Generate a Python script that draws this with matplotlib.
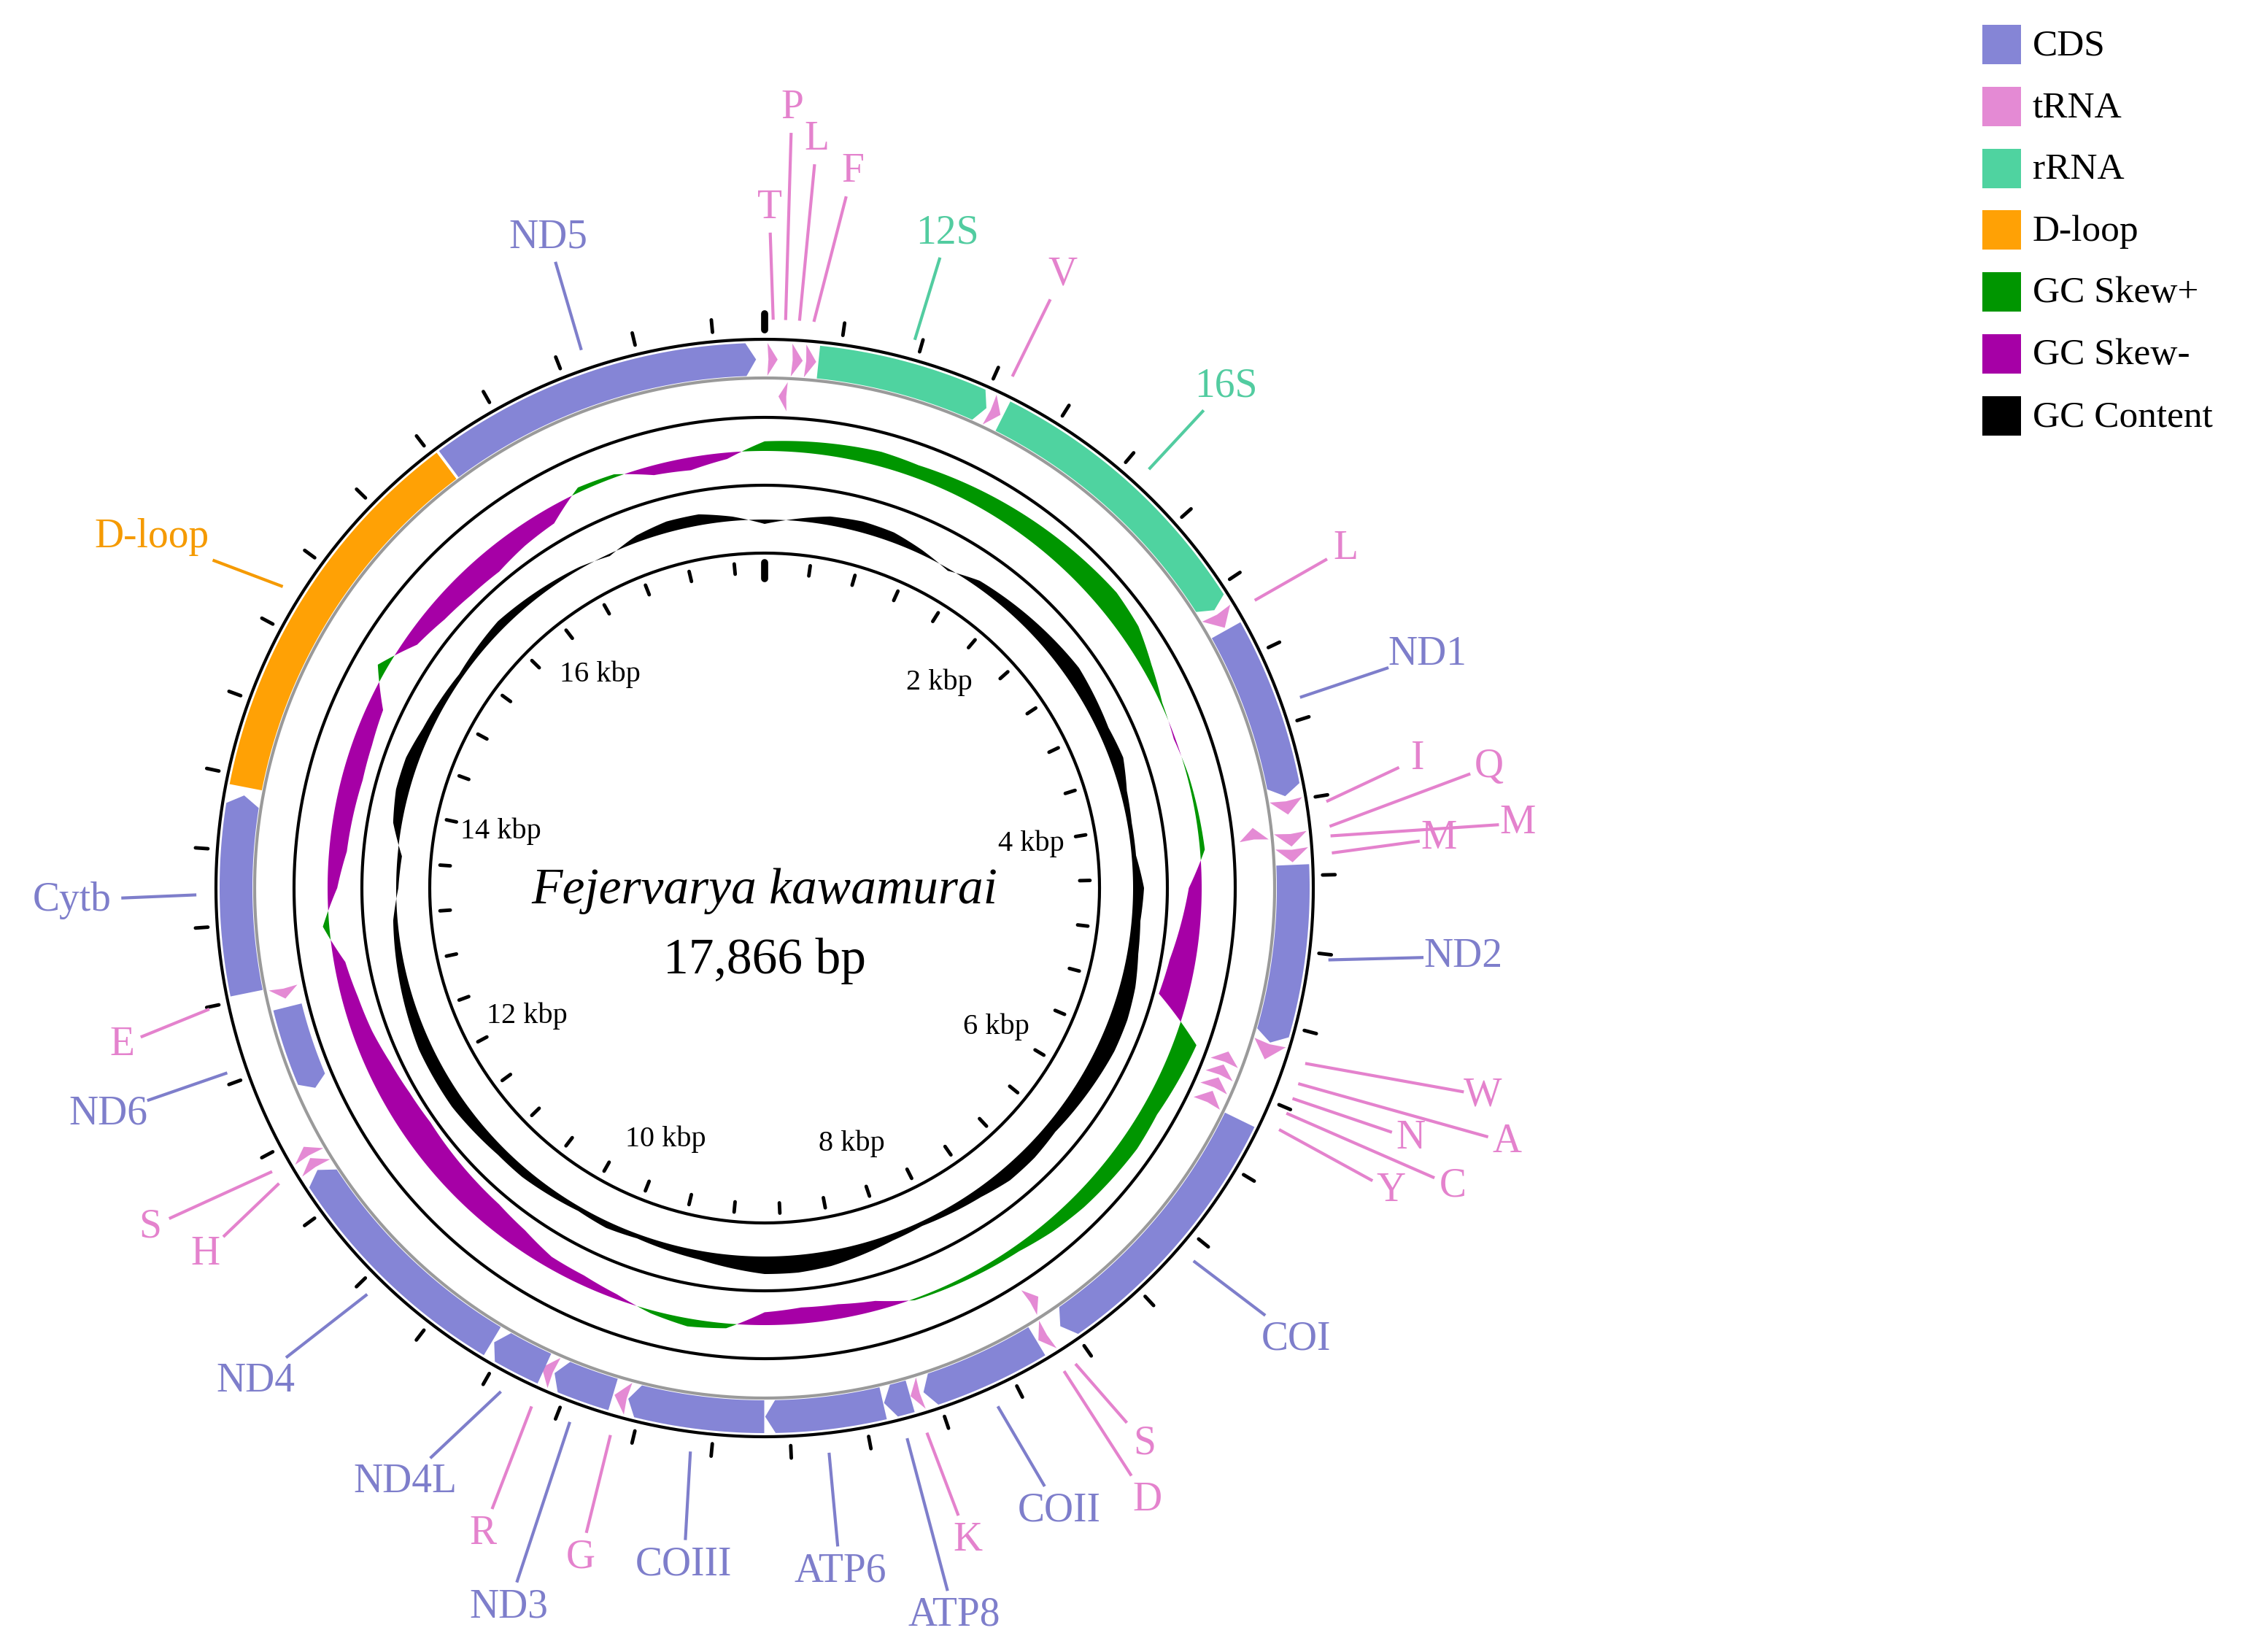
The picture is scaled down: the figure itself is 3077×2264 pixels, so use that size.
import numpy as np
import matplotlib
matplotlib.use("Agg")
import matplotlib.pyplot as plt
from matplotlib.patches import Polygon

GENOME = 17866
# features: name, start(bp), end(bp), strand(+1 outer / -1 inner), type
feat_names = ["ND5","T","P","L","F","12S","V","16S","L","ND1","I","Q","M","M","ND2",
              "W","A","N","C","Y","COI","S","D","COII","K","ATP8","ATP6","COIII","G",
              "ND3","R","ND4L","ND4","H","S","ND6","E","Cytb","D-loop"]
feat_start = [16045, 15, 80, 145, 218, 290, 1250, 1330, 2912, 3018, 3990, 4118, 4168, 4253, 4342,
              5310, 5430, 5510, 5590, 5675, 5757, 7255, 7325, 7395, 8080, 8140, 8290, 8935, 9676,
              9760, 10098, 10155, 10472, 11813, 11885, 12210, 12755, 12830, 13945]
feat_end   = [17820, 70, 130, 205, 278, 1231, 1315, 2893, 3003, 3970, 4070, 4193, 4243, 4328, 5310,
              5405, 5500, 5580, 5660, 5755, 7245, 7318, 7385, 8065, 8138, 8285, 8930, 9675, 9752,
              10095, 10170, 10460, 11800, 11875, 11945, 12705, 12820, 13900, 16030]
feat_strand = [1,1,-1,1,1,1,1,1,1,1,1,-1,1,1,1,
               1,-1,-1,-1,-1,1,-1,1,1,1,1,1,1,1,
               1,1,1,1,1,1,-1,-1,1,1]
feat_type = ["CDS","tRNA","tRNA","tRNA","tRNA","rRNA","tRNA","rRNA","tRNA","CDS","tRNA","tRNA","tRNA","tRNA","CDS",
             "tRNA","tRNA","tRNA","tRNA","tRNA","CDS","tRNA","tRNA","CDS","tRNA","CDS","CDS","CDS","tRNA",
             "CDS","tRNA","CDS","CDS","tRNA","tRNA","CDS","tRNA","CDS","D-loop"]
# label placement (angle deg, radius px in 1568-wide preview units)
label_ang = [341.6,0.4,2.0,4.0,7.0,15.6,25.9,42.6,59.7,70.6,78.8,80.5,85.1,85.8,95.6,
             106.1,108.9,111.2,113.4,115.8,130.3,145.6,148.0,154.7,162.7,165.4,173.7,186.8,195.4,
             199.6,203.6,211.2,225.9,236.8,241.1,251.0,256.3,269.0,299.8]
label_rad = [479,475,545,524,504,475,476,476,470,491,465,513,528,472,490,
             522,548,484,524,486,487,470,504,481,477,525,480,476,485,
             533,492,485,495,467,490,485,462,484,493]

# GC skew and GC content, sampled every 5 degrees (relative amplitude)
skew = [0.3,0.35,0.4,0.45,0.4,0.45,0.5,0.55,0.6,0.65,0.7,0.6,0.3,0.05,-0.05,0.05,0.1,0.15,
        -0.4,-0.6,-0.8,-0.9,0.7,0.6,0.5,0.55,0.5,0.45,0.35,0.2,0.15,0.1,0.05,-0.3,-0.45,-0.5,
        -0.4,0.15,0.25,0.1,-0.15,-0.3,-0.35,-0.6,-0.75,-0.8,-0.85,-0.9,-0.85,-0.75,-0.6,-0.5,
        -0.35,0.2,-0.3,-0.55,-0.6,-0.65,-0.6,-0.5,0.3,-0.4,-0.6,-0.7,-0.75,-0.6,-0.5,0.15,0.1,
        -0.3,-0.4,-0.2]
gc_content = [-0.2,0.1,0.4,0.5,0.45,0.2,-0.1,0.3,0.4,0.5,0.6,0.7,0.6,0.5,0.6,0.3,0.2,0.2,
              0.5,0.4,0.5,0.7,0.8,0.8,0.7,0.6,0.5,0.6,0.6,0.4,0.3,0.2,0.3,0.5,0.7,0.8,
              0.8,0.6,0.4,0.3,0.2,0.3,0.2,0.3,0.4,0.4,0.5,0.6,0.6,0.6,0.5,0.4,
              0.3,0.2,-0.1,-0.2,0.4,0.6,0.6,0.4,0.3,0.2,0.3,0.4,0.3,0.2,0.1,-0.1,0.3,
              0.5,0.5,0.2]

tick_labels = ["2 kbp","4 kbp","6 kbp","8 kbp","10 kbp","12 kbp","14 kbp","16 kbp"]
legend_names = ["CDS","tRNA","rRNA","D-loop","GC Skew+","GC Skew-","GC Content"]

COL = {"CDS": "#8585d6", "tRNA": "#e48ad4", "rRNA": "#4fd3a0", "D-loop": "#ffa105",
       "GC Skew+": "#009600", "GC Skew-": "#a600a6", "GC Content": "#000000"}
TXT = {"CDS": "#7e7ecb", "tRNA": "#e482cd", "rRNA": "#52cca0", "D-loop": "#f59a00"}

W, H = 3077, 2264
S = W / 1568.0
cx, cy = 1048, 1217
SERIF = ["Liberation Serif", "DejaVu Serif"]

fig = plt.figure(figsize=(W/100, H/100), dpi=100)
ax = fig.add_axes([0, 0, 1, 1])
ax.set_xlim(0, W); ax.set_ylim(H, 0); ax.set_aspect("equal"); ax.axis("off")

def deg(bp):
    return bp / GENOME * 360.0

def pt(a, r):
    t = np.radians(a)
    return cx + r*np.sin(t), cy - r*np.cos(t)

def circle(r, color="black", lw=3.0):
    a = np.linspace(0, 360, 721)
    x, y = pt(a, r)
    ax.plot(x, y, color=color, lw=lw, solid_capstyle="butt", zorder=4)

# feature bands
R_OUT = (702, 747); R_IN = (654, 694)
for name, s, e, st, ty in zip(feat_names, feat_start, feat_end, feat_strand, feat_type):
    r0, r1 = R_OUT if st == 1 else R_IN
    a0, a1 = deg(s), deg(e)
    rm = (r0 + r1) / 2
    if ty == "tRNA":
        if st == 1:
            poly = [pt(a0, r1), pt(a1, rm), pt(a0, r0), pt(a0 + 0.1*(a1-a0), rm)]
        else:
            poly = [pt(a1, r1), pt(a0, rm), pt(a1, r0), pt(a1 - 0.1*(a1-a0), rm)]
    else:
        if ty == "rRNA":
            head = 0.9
        elif ty == "D-loop":
            head = 0.0
        else:
            head = min(1.1, (a1 - a0) * 0.4)
        if st == 1:
            aa = np.linspace(a0, a1 - head, 80)
            outer = [pt(a, r1) for a in aa]
            inner = [pt(a, r0) for a in aa[::-1]]
            poly = outer + [pt(a1, rm)] + inner
        else:
            aa = np.linspace(a0 + head, a1, 80)
            outer = [pt(a, r1) for a in aa]
            inner = [pt(a, r0) for a in aa[::-1]]
            poly = [pt(a0, rm)] + outer + inner
    ax.add_patch(Polygon(poly, closed=True, fc=COL[ty], ec="none", zorder=3))

circle(752)
circle(699, color="#9a9a9a")
circle(645)
circle(552)
circle(459)

def ring_fill(vals, base, amp, pos_col, neg_col):
    a = np.arange(0, 360.01, 5.0)
    v = np.array(list(vals) + [vals[0]])
    af = np.linspace(0, 360, 2881)
    vf = np.interp(af, a, v)
    for sign, col in ((1, pos_col), (-1, neg_col)):
        vv = np.where(sign * vf > 0, vf, 0)
        xo, yo = pt(af, base + amp*vv)
        xi, yi = pt(af[::-1], np.full(af.size, base))
        ax.fill(np.r_[xo, xi], np.r_[yo, yi], color=col, lw=0, zorder=2)

ring_fill(skew, 599, 44, COL["GC Skew+"], COL["GC Skew-"])
ring_fill(gc_content, 505, 30, "black", "black")

# ticks every 400 bp
for bp in range(0, GENOME, 400):
    a = deg(bp)
    major = bp == 0
    x, y = pt(a, np.array([765, 787 if major else 782]))
    ax.plot(x, y, color="black", lw=7 if major else 3.5, solid_capstyle="round")
    x, y = pt(a, np.array([446, 424 if major else 432]))
    ax.plot(x, y, color="black", lw=7 if major else 3.5, solid_capstyle="round")
for i, lab in enumerate(tick_labels):
    a = deg((i + 1) * 2000)
    x, y = pt(a, 370)
    ax.text(x, y, lab, ha="center", va="center", fontsize=29, family=SERIF)

# labels and leader lines
fs = 40
for name, s, e, ty, la, lr in zip(feat_names, feat_start, feat_end, feat_type, label_ang, label_rad):
    am = deg((s + e) / 2)
    x0, y0 = pt(am, 781)
    xl, yl = pt(la, lr * S)
    ax.text(xl, yl, name, ha="center", va="center", fontsize=fs, family=SERIF,
            color=TXT[ty], zorder=5)
    dx, dy = x0 - xl, y0 - yl
    d = np.hypot(dx, dy)
    hw = len(name) * 14 + 8
    hh = 30
    t = min(hw / max(abs(dx), 1e-6) * d, hh / max(abs(dy), 1e-6) * d) + 6
    ux, uy = dx / d, dy / d
    ax.plot([x0, xl + ux*t], [y0, yl + uy*t], color=TXT[ty], lw=3)

ax.text(cx, cy + 4, "Fejervarya kawamurai", ha="center", va="center", fontsize=50,
        style="italic", family=SERIF)
ax.text(cx, cy + 100, "17,866 bp", ha="center", va="center", fontsize=50, family=SERIF)

for i, nm in enumerate(legend_names):
    yc = 61 + 84.8 * i
    ax.add_patch(plt.Rectangle((2717, yc - 27), 53, 54, fc=COL[nm], ec="none"))
    ax.text(2786, yc + 2, nm, ha="left", va="center", fontsize=37, family=SERIF)

fig.savefig("out.png", dpi=100)
